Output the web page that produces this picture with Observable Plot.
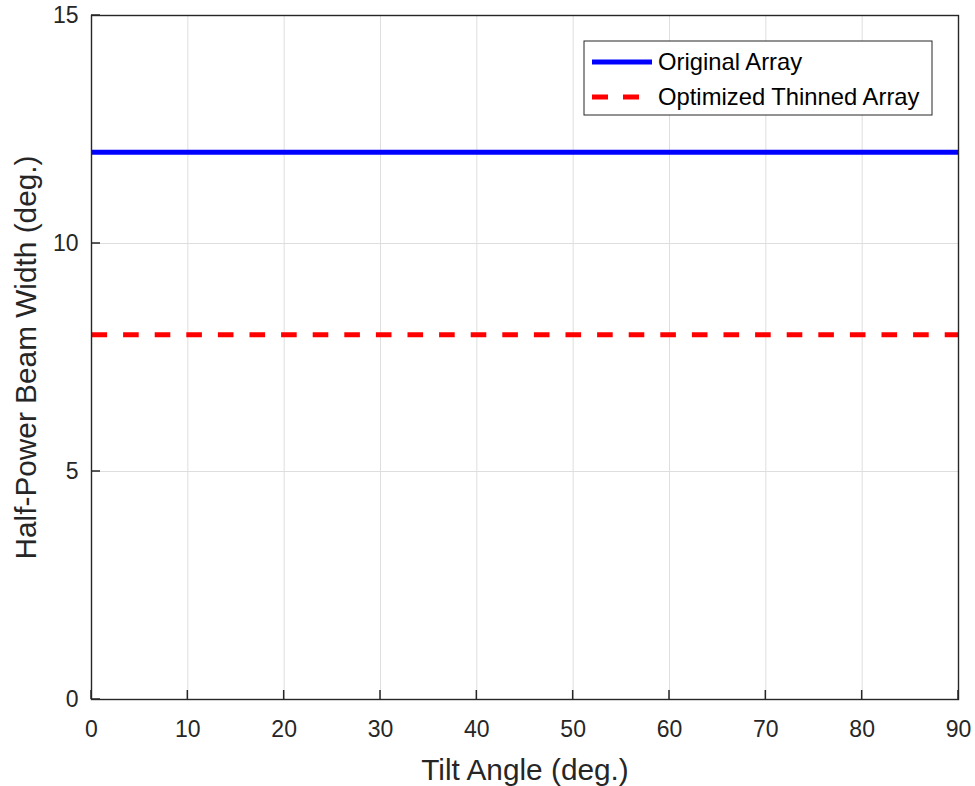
<!DOCTYPE html>
<html>
<head>
<meta charset="utf-8">
<script src="https://cdn.jsdelivr.net/npm/d3@7"></script>
<script src="https://cdn.jsdelivr.net/npm/@observablehq/plot@0.6"></script>
<style>
  html, body { margin: 0; padding: 0; background: #ffffff; }
  #chart svg { display: block; }
</style>
</head>
<body>
<div id="chart"></div>
<script>
// ---- Data ----
const tiltAngles = [0, 10, 20, 30, 40, 50, 60, 70, 80, 90];
const originalHPBW = [12, 12, 12, 12, 12, 12, 12, 12, 12, 12];
const thinnedHPBW = [8, 8, 8, 8, 8, 8, 8, 8, 8, 8];
const seriesNames = ["Original Array", "Optimized Thinned Array"];
const seriesColors = ["#0000ff", "#ff0000"];
const seriesDash = [null, "15.6,16"];
const xTicks = [0, 10, 20, 30, 40, 50, 60, 70, 80, 90];
const yTicks = [0, 5, 10, 15];
const xLabel = "Tilt Angle (deg.)";
const yLabel = "Half-Power Beam Width (deg.)";

const seriesValues = [originalHPBW, thinnedHPBW];
const rows = seriesNames.flatMap((name, s) =>
  tiltAngles.map((t, i) => ({series: name, tilt: t, hpbw: seriesValues[s][i]}))
);

const W = 975, H = 786;
const mL = 91, mR = 17, mT = 15, mB = 87;
const axisColor = "#262626";
const font = "'Liberation Sans', Arial, Helvetica, sans-serif";

// inward tick marks drawn from the scales
function innerTicks(index, scales, values, dims) {
  const g = d3.create("svg:g").attr("stroke", axisColor).attr("stroke-width", 1.5);
  const yb = dims.height - dims.marginBottom;
  const xl = dims.marginLeft;
  for (const t of xTicks) {
    const px = scales.x(t);
    g.append("line").attr("x1", px).attr("x2", px).attr("y1", yb).attr("y2", yb - 9);
  }
  for (const t of yTicks) {
    const py = scales.y(t);
    g.append("line").attr("x1", xl).attr("x2", xl + 9).attr("y1", py).attr("y2", py);
  }
  return g.node();
}

// legend box inside the plot
function legend(index, scales, values, dims) {
  const g = d3.create("svg:g");
  const bx = 584, by = 41, bw = 348, bh = 74;
  g.append("rect").attr("x", bx).attr("y", by).attr("width", bw).attr("height", bh)
    .attr("fill", "#ffffff").attr("stroke", axisColor).attr("stroke-width", 1);
  const rowY = [62, 97];
  seriesNames.forEach((name, i) => {
    g.append("line").attr("x1", 592).attr("x2", 652).attr("y1", rowY[i]).attr("y2", rowY[i])
      .attr("stroke", seriesColors[i]).attr("stroke-width", 5)
      .attr("stroke-dasharray", seriesDash[i] ? "16,15" : null);
    g.append("text").attr("x", 658).attr("y", rowY[i]).attr("dy", "0.35em")
      .attr("text-anchor", "start")
      .attr("fill", "#000000").attr("font-size", 23.8).attr("font-family", font)
      .text(name);
  });
  return g.node();
}

const chart = Plot.plot({
  width: W,
  height: H,
  marginLeft: mL,
  marginRight: mR,
  marginTop: mT,
  marginBottom: mB,
  style: {fontFamily: font, color: axisColor, background: "#ffffff"},
  x: {domain: [0, 90]},
  y: {domain: [0, 15]},
  marks: [
    Plot.gridX(xTicks, {stroke: "#dedede", strokeOpacity: 1, strokeWidth: 1}),
    Plot.gridY(yTicks, {stroke: "#dedede", strokeOpacity: 1, strokeWidth: 1}),
    ...seriesNames.map((name, i) =>
      Plot.line(rows.filter(d => d.series === name), {
        x: "tilt", y: "hpbw",
        stroke: seriesColors[i], strokeWidth: 5,
        strokeLinecap: "butt",
        strokeDasharray: seriesDash[i]
      })
    ),
    Plot.frame({stroke: axisColor, strokeWidth: 1.4}),
    innerTicks,
    Plot.axisX(xTicks, {tickSize: 0, tickPadding: 21, fontSize: 23, label: null}),
    Plot.axisY(yTicks, {tickSize: 0, tickPadding: 13, fontSize: 23, label: null}),
    Plot.text([xLabel], {frameAnchor: "bottom", dy: 71, text: d => d, fontSize: 29.8, fill: axisColor, textAnchor: "middle", lineAnchor: "middle"}),
    Plot.text([yLabel], {frameAnchor: "left", dx: -65, text: d => d, fontSize: 29.8, fill: axisColor, textAnchor: "middle", rotate: -90, lineAnchor: "middle"}),
    legend
  ]
});

document.getElementById("chart").appendChild(chart);
</script>
</body>
</html>
